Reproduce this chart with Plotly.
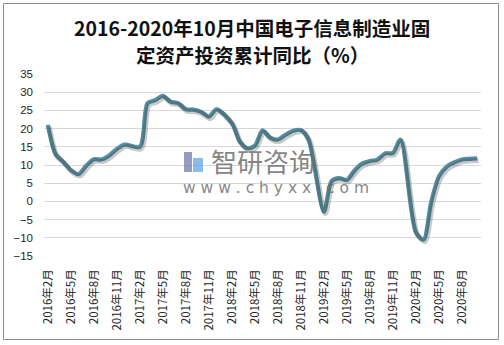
import plotly.graph_objects as go

# ---- data ----
years = [2016, 2017, 2018, 2019, 2020]
first_month = {2016: 2}
last_month = {2020: 10}

values_2016 = [21.0, 13.0, 10.9, 8.6, 7.5, 9.8, 11.6, 11.5, 12.6, 14.4, 15.6]          # Feb-Dec
values_2017 = [None, 15.0, 27.0, 27.8, 29.0, 27.4, 27.0, 25.3, 25.2, 24.6, 23.3, 25.3]  # Jan-Dec
values_2018 = [None, 21.5, 16.6, 14.6, 15.3, 19.5, 17.5, 17.0, 18.3, 19.4, 19.6, 17.0]
values_2019 = [None, -2.8, 5.6, 6.4, 5.9, 8.5, 10.4, 11.1, 11.5, 13.2, 13.3, 17.0]
values_2020 = [None, -8.5, -10.5, -0.2, 6.8, 9.5, 10.7, 11.5, 11.7, 11.8]              # Jan-Oct

values = values_2016 + values_2017 + values_2018 + values_2019 + values_2020

categories = []
for y in years:
    for m in range(first_month.get(y, 1), last_month.get(y, 12) + 1):
        categories.append(f"{y}年{m}月")

y_ticks = [-15, -10, -5, 0, 5, 10, 15, 20, 25, 30, 35]

title_lines = ["2016-2020年10月中国电子信息制造业固", "定资产投资累计同比（%）"]

# ---- layout constants ----
W, H = 504, 345
ML, MR, MT, MB = 44, 23, 74, 89
plot_w = W - ML - MR
plot_h = H - MT - MB
n = len(categories)
x_range = [-0.5, n - 0.5]
y_range = [-15, 35]
px_per_x = plot_w / (x_range[1] - x_range[0])
px_per_y = plot_h / (y_range[1] - y_range[0])
sh_dx, sh_dy = 1.5, 2.0  # shadow offset in pixels

line_color = "#558ea2"
cjk = "Noto Sans CJK SC, Microsoft YaHei, sans-serif"

fig = go.Figure()

# shadow trace (drawn on shifted twin axes)
fig.add_trace(go.Scatter(
    x=categories, y=values, mode="lines", xaxis="x2", yaxis="y2",
    line=dict(color="rgba(60,60,60,0.28)", width=5, shape="spline", smoothing=0.8),
    connectgaps=True, hoverinfo="skip", showlegend=False,
))
# main line
fig.add_trace(go.Scatter(
    x=categories, y=values, mode="lines",
    line=dict(color=line_color, width=4.2, shape="spline", smoothing=0.8),
    connectgaps=True, showlegend=False,
))

def px_to_paper_x(px):
    return (px - ML) / plot_w

def px_to_paper_y(py):
    return (H - MB - py) / plot_h

# title (two lines)
for txt, cy in zip(title_lines, [27, 55]):
    fig.add_annotation(
        text=txt, x=px_to_paper_x(W / 2), y=px_to_paper_y(cy), xref="paper", yref="paper",
        xanchor="center", yanchor="middle", showarrow=False, borderpad=0,
        font=dict(family=cjk, size=19.5, color="#111111", weight="bold"),
    )

# watermark
fig.add_annotation(
    text="智研咨询", x=px_to_paper_x(210), y=px_to_paper_y(160), xref="paper", yref="paper",
    xanchor="left", yanchor="middle", showarrow=False, borderpad=0,
    font=dict(family=cjk, size=26, color="rgba(110,110,110,0.85)"),
)
fig.add_annotation(
    text="w w w . c h y x x . c o m", x=px_to_paper_x(182), y=px_to_paper_y(188),
    xref="paper", yref="paper",
    xanchor="left", yanchor="middle", showarrow=False, borderpad=0,
    font=dict(family="DejaVu Sans, Arial", size=15.5, color="rgba(110,110,110,0.85)"),
)

shapes = [
    # outer border
    dict(type="rect", xref="paper", yref="paper",
         x0=px_to_paper_x(3.5), x1=px_to_paper_x(498.5),
         y0=px_to_paper_y(339.5), y1=px_to_paper_y(3.5),
         line=dict(color="#8c8c8c", width=1), fillcolor="rgba(0,0,0,0)", layer="below"),
    # watermark logo (approximation)
    dict(type="rect", xref="paper", yref="paper",
         x0=px_to_paper_x(184), x1=px_to_paper_x(192),
         y0=px_to_paper_y(172), y1=px_to_paper_y(152),
         line=dict(width=0), fillcolor="rgba(120,130,175,0.8)", layer="above"),
    dict(type="rect", xref="paper", yref="paper",
         x0=px_to_paper_x(193), x1=px_to_paper_x(203),
         y0=px_to_paper_y(172), y1=px_to_paper_y(158),
         line=dict(width=0), fillcolor="rgba(110,170,225,0.8)", layer="above"),
]

fig.update_layout(
    width=W, height=H,
    margin=dict(l=ML, r=MR, t=MT, b=MB, pad=0),
    paper_bgcolor="white", plot_bgcolor="white",
    xaxis=dict(
        type="category", categoryorder="array", categoryarray=categories,
        range=x_range, dtick=3, tickangle=-90,
        showgrid=False, zeroline=False, showline=False,
        ticks="", ticklabelstandoff=10,
        tickfont=dict(family=cjk, size=11.5, color="#262626"),
    ),
    yaxis=dict(
        range=y_range, tickvals=y_ticks, showgrid=True, gridcolor="#d9d9d9", gridwidth=1,
        zeroline=True, zerolinecolor="#d9d9d9", zerolinewidth=1, showline=False,
        ticks="", ticklabelstandoff=10,
        tickfont=dict(family="Liberation Sans, Arial", size=11.5, color="#262626"),
    ),
    xaxis2=dict(
        type="category", categoryorder="array", categoryarray=categories,
        range=[x_range[0] - sh_dx / px_per_x, x_range[1] - sh_dx / px_per_x],
        overlaying="x", visible=False,
    ),
    yaxis2=dict(
        range=[y_range[0] + sh_dy / px_per_y, y_range[1] + sh_dy / px_per_y],
        overlaying="y", visible=False,
    ),
    shapes=shapes,
)

fig.write_html("out.html")
